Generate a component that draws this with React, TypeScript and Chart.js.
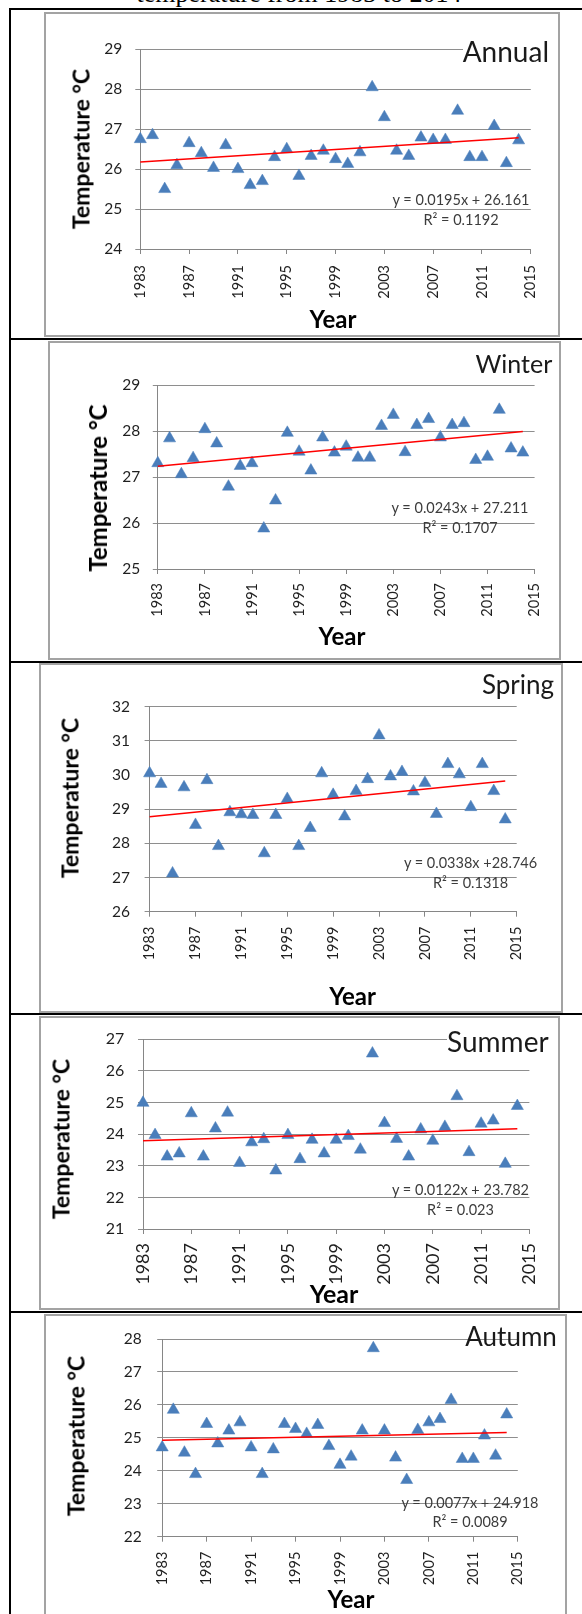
import React, { useEffect, useRef } from "react";
import { Chart, registerables } from "chart.js";

Chart.register(...registerables);

// ---------------- data ----------------
const YEARS = [
  1983, 1984, 1985, 1986, 1987, 1988, 1989, 1990, 1991, 1992, 1993, 1994, 1995, 1996, 1997, 1998,
  1999, 2000, 2001, 2002, 2003, 2004, 2005, 2006, 2007, 2008, 2009, 2010, 2011, 2012, 2013, 2014,
];

const X_TICK_LABELS = ["1983", "1987", "1991", "1995", "1999", "2003", "2007", "2011", "2015"];

const ANNUAL = [
  26.75, 26.85, 25.5, 26.1, 26.65, 26.4, 26.03, 26.6, 26.0, 25.6, 25.7, 26.3, 26.5, 25.83, 26.33, 26.46,
  26.25, 26.13, 26.42, 28.05, 27.3, 26.46, 26.33, 26.79, 26.73, 26.73, 27.46, 26.3, 26.3, 27.08, 26.15, 26.72,
];
const WINTER = [
  27.3, 27.84, 27.06, 27.41, 28.04, 27.73, 26.79, 27.24, 27.3, 25.88, 26.49, 27.96, 27.55, 27.14, 27.86, 27.53,
  27.66, 27.42, 27.42, 28.11, 28.35, 27.54, 28.13, 28.26, 27.86, 28.13, 28.17, 27.37, 27.44, 28.46, 27.62, 27.53,
];
const SPRING = [
  30.05, 29.74, 27.12, 29.64, 28.54, 29.85, 27.92, 28.91, 28.85, 28.83, 27.71, 28.83, 29.3, 27.92, 28.45, 30.05,
  29.42, 28.79, 29.53, 29.88, 31.16, 29.96, 30.09, 29.52, 29.77, 28.86, 30.32, 30.02, 29.06, 30.32, 29.53, 28.7,
];
const SUMMER = [
  24.99, 23.97, 23.29, 23.39, 24.66, 23.29, 24.18, 24.68, 23.09, 23.74, 23.84, 22.85, 23.97, 23.21, 23.82, 23.39,
  23.82, 23.94, 23.51, 26.55, 24.35, 23.85, 23.29, 24.15, 23.79, 24.23, 25.2, 23.43, 24.33, 24.43, 23.06, 24.89,
];
const AUTUMN = [
  24.71, 25.85, 24.55, 23.9, 25.42, 24.83, 25.22, 25.47, 24.71, 23.9, 24.65, 25.42, 25.27, 25.12, 25.39, 24.75,
  24.18, 24.43, 25.22, 27.72, 25.22, 24.4, 23.72, 25.24, 25.47, 25.57, 26.15, 24.36, 24.36, 25.07, 24.46, 25.71,
];

const ANNUAL_Y_TICKS = [24, 25, 26, 27, 28, 29];
const WINTER_Y_TICKS = [25, 26, 27, 28, 29];
const SPRING_Y_TICKS = [26, 27, 28, 29, 30, 31, 32];
const SUMMER_Y_TICKS = [21, 22, 23, 24, 25, 26, 27];
const AUTUMN_Y_TICKS = [22, 23, 24, 25, 26, 27, 28];

const SERIES_NAMES = ["Annual", "Winter", "Spring", "Summer", "Autumn"];
const EQUATIONS = [
  "y = 0.0195x + 26.161",
  "y = 0.0243x + 27.211",
  "y = 0.0338x +28.746",
  "y = 0.0122x + 23.782",
  "y = 0.0077x + 24.918",
];
const R_SQUARED = ["0.1192", "0.1707", "0.1318", "0.023", "0.0089"];
const TREND_SLOPE = [0.0195, 0.0243, 0.0338, 0.0122, 0.0077];
const TREND_INTERCEPT = [26.161, 27.211, 28.746, 23.782, 24.918];

const SERIES_VALUES = [ANNUAL, WINTER, SPRING, SUMMER, AUTUMN];
const Y_TICKS = [ANNUAL_Y_TICKS, WINTER_Y_TICKS, SPRING_Y_TICKS, SUMMER_Y_TICKS, AUTUMN_Y_TICKS];

const PAGE_TITLE = "temperature from 1983 to 2014";
const Y_TITLE = "Temperature \u00B0C";
const X_TITLE = "Year";

// ---------------- layout / style ----------------
const FONT = "Lato, 'Open Sans', sans-serif";
const AXIS_GRAY = "#868686";
const GRID_GRAY = "#8e8e8e";
const TICK_COLOR = "#1f1f1f";
const MARKER = "#4a7ebb";

const LAYOUTS = [
  {
    frame: { l: 44, t: 12, r: 560, b: 337 },
    plot: { l: 140.3, t: 49.3, r: 530.8, b: 249 },
    xPad: 11, yPad: 13, xFont: 14.5, yFont: 15.5,
    name: { x: 549, y: 61.7, size: 28, bg: true },
    eq: { x: 461, y1: 206, y2: 226, size: 14.5 },
    year: { x: 333, y: 328, size: 24 },
    temp: { x: 81, y: 148.5, size: 23 },
  },
  {
    frame: { l: 48, t: 341, r: 561, b: 660 },
    plot: { l: 157.8, t: 385, r: 537, b: 569 },
    xPad: 9, yPad: 12.5, xFont: 14.5, yFont: 15.5,
    name: { x: 552.3, y: 372.7, size: 25, bg: false },
    eq: { x: 460, y1: 514, y2: 534, size: 14.5 },
    year: { x: 342, y: 645, size: 24 },
    temp: { x: 98, y: 488, size: 24 },
  },
  {
    frame: { l: 39, t: 663, r: 563, b: 1013 },
    plot: { l: 149.6, t: 706.7, r: 516.7, b: 911.7 },
    xPad: 10, yPad: 14.6, xFont: 14.5, yFont: 15.5,
    name: { x: 554, y: 694, size: 26, bg: false },
    eq: { x: 470.5, y1: 869, y2: 889, size: 14.5 },
    year: { x: 352.6, y: 1005, size: 24 },
    temp: { x: 70, y: 798, size: 23 },
  },
  {
    frame: { l: 39, t: 1016, r: 560, b: 1310 },
    plot: { l: 143, t: 1032.7, r: 542.7, b: 1229 },
    xPad: 9, yPad: 13.7, xFont: 18, yFont: 16,
    name: { x: 548.6, y: 1051.7, size: 28, bg: true },
    eq: { x: 460.5, y1: 1196, y2: 1215.5, size: 14.5 },
    year: { x: 334, y: 1303, size: 25 },
    temp: { x: 61, y: 1139, size: 23 },
  },
  {
    frame: { l: 44, t: 1314, r: 567, b: 1640 },
    plot: { l: 162.2, t: 1339, r: 517.8, b: 1536.7 },
    xPad: 10, yPad: 15.4, xFont: 14.5, yFont: 15.5,
    name: { x: 556.8, y: 1345.7, size: 26, bg: false },
    eq: { x: 470, y1: 1508.5, y2: 1528, size: 14.5 },
    year: { x: 351, y: 1608, size: 24 },
    temp: { x: 76, y: 1436, size: 23 },
  },
];

const PAGE_W = 582;
const PAGE_H = 1614;
const LATO_ASC = 0.887;

function Txt(props: {
  text: string; x: number; y: number; size: number; align: "left" | "center" | "right";
  weight?: number; color?: string; family?: string; asc?: number; bg?: boolean;
}) {
  const { text, x, y, size, align, weight = 400, color = "#000", family = FONT, asc = LATO_ASC, bg = false } = props;
  const style: React.CSSProperties = {
    position: "absolute",
    top: y - asc * size,
    fontSize: size,
    lineHeight: `${size}px`,
    fontWeight: weight,
    color,
    fontFamily: family,
    whiteSpace: "nowrap",
    background: bg ? "#fff" : "transparent",
  };
  if (align === "left") style.left = x;
  else if (align === "right") style.right = PAGE_W - x;
  else {
    style.left = x;
    style.transform = "translateX(-50%)";
  }
  return <div style={style}>{text}</div>;
}

function VTxt(props: { text: string; cx: number; cy: number; size: number }) {
  const { text, cx, cy, size } = props;
  return (
    <div
      style={{
        position: "absolute",
        left: cx,
        top: cy,
        transform: "translate(-50%, -50%) rotate(-90deg)",
        fontSize: size,
        lineHeight: `${size}px`,
        fontWeight: 700,
        fontFamily: FONT,
        color: "#000",
        whiteSpace: "nowrap",
      }}
    >
      {text}
    </div>
  );
}

function Panel({ idx }: { idx: number }) {
  const ref = useRef<HTMLCanvasElement | null>(null);
  const L = LAYOUTS[idx];
  const f = L.frame;
  const p = L.plot;
  const W = f.r - f.l;
  const H = f.b - f.t;

  useEffect(() => {
    const canvas = ref.current;
    if (!canvas) return;
    const values = SERIES_VALUES[idx];
    const yTicks = Y_TICKS[idx];
    const xVals = X_TICK_LABELS.map(Number);
    const pts = YEARS.map((x, i) => ({ x, y: values[i] }));
    const trend = [0, YEARS.length - 1].map((i) => ({
      x: YEARS[i],
      y: TREND_INTERCEPT[idx] + TREND_SLOPE[idx] * (i + 1),
    }));

    const chart = new Chart(canvas, {
      type: "scatter",
      data: {
        datasets: [
          {
            type: "line",
            label: "trend",
            data: trend,
            borderColor: "#ff0000",
            borderWidth: 1.5,
            pointRadius: 0,
            fill: false,
            tension: 0,
            clip: false,
          } as any,
          {
            type: "scatter",
            label: SERIES_NAMES[idx],
            data: pts,
            pointStyle: "triangle",
            pointRadius: 7,
            pointHoverRadius: 7,
            backgroundColor: MARKER,
            borderColor: MARKER,
            borderWidth: 0.5,
            clip: false,
          } as any,
        ],
      },
      options: {
        responsive: false,
        animation: false,
        devicePixelRatio: 1,
        events: [],
        layout: { padding: { left: 0, top: p.t - f.t, right: f.r - p.r, bottom: 0 } },
        plugins: { legend: { display: false }, tooltip: { enabled: false }, title: { display: false } },
        scales: {
          x: {
            type: "linear",
            min: xVals[0],
            max: xVals[xVals.length - 1],
            afterBuildTicks: (s: any) => {
              s.ticks = xVals.map((v) => ({ value: v }));
            },
            afterFit: (s: any) => {
              s.height = f.b - p.b;
            },
            grid: { display: true, drawOnChartArea: false, drawTicks: true, tickLength: 5, color: AXIS_GRAY, lineWidth: 1 },
            border: { display: true, color: AXIS_GRAY, width: 1 },
            ticks: {
              autoSkip: false,
              minRotation: 90,
              maxRotation: 90,
              padding: L.xPad,
              color: TICK_COLOR,
              font: { family: FONT, size: L.xFont },
              callback: (v: any) => {
                const k = xVals.indexOf(Number(v));
                return k >= 0 ? X_TICK_LABELS[k] : "";
              },
            },
          },
          y: {
            type: "linear",
            min: yTicks[0],
            max: yTicks[yTicks.length - 1],
            afterBuildTicks: (s: any) => {
              s.ticks = yTicks.map((v) => ({ value: v }));
            },
            afterFit: (s: any) => {
              s.width = p.l - f.l;
            },
            grid: { display: true, drawOnChartArea: true, drawTicks: true, tickLength: 5, color: GRID_GRAY, lineWidth: 1 },
            border: { display: true, color: AXIS_GRAY, width: 1 },
            ticks: {
              autoSkip: false,
              padding: L.yPad,
              color: TICK_COLOR,
              font: { family: FONT, size: L.yFont },
              callback: (v: any) => String(v),
            },
          },
        },
      } as any,
    });
    return () => chart.destroy();
  }, [idx]);

  return (
    <>
      <div
        style={{
          position: "absolute",
          left: f.l,
          top: f.t,
          width: W,
          height: H,
          border: "2px solid #a3a3a3",
          boxSizing: "border-box",
        }}
      />
      <canvas
        ref={ref}
        width={W}
        height={H}
        style={{ position: "absolute", left: f.l, top: f.t, width: W, height: H }}
      />
      <Txt text={SERIES_NAMES[idx]} x={L.name.x} y={L.name.y} size={L.name.size} align="right" color="#1a1a1a" bg={L.name.bg} />
      <Txt text={EQUATIONS[idx]} x={L.eq.x} y={L.eq.y1} size={L.eq.size} align="center" color="#3c3c3c" />
      <Txt text={`R\u00B2 = ${R_SQUARED[idx]}`} x={L.eq.x} y={L.eq.y2} size={L.eq.size} align="center" color="#3c3c3c" />
      <Txt text={X_TITLE} x={L.year.x} y={L.year.y} size={L.year.size} align="center" weight={700} />
      <VTxt text={Y_TITLE} cx={L.temp.x} cy={L.temp.y} size={L.temp.size} />
    </>
  );
}

export default function App() {
  useEffect(() => {
    document.body.style.margin = "0";
    document.body.style.overflow = "hidden";
    document.documentElement.style.overflow = "hidden";
  }, []);

  const hLines = [8, 338, 661, 1013, 1311];

  return (
    <div
      style={{
        position: "relative",
        width: PAGE_W,
        height: PAGE_H,
        overflow: "hidden",
        background: "#fff",
      }}
    >
      <Txt
        text={PAGE_TITLE}
        x={299}
        y={2.5}
        size={26}
        align="center"
        family="'Liberation Serif', 'Times New Roman', serif"
        asc={0.8375}
      />
      {hLines.map((y, i) => (
        <div key={"h" + i} style={{ position: "absolute", left: 9, top: y, width: PAGE_W - 9, height: 2, background: "#000" }} />
      ))}
      <div style={{ position: "absolute", left: 9, top: 8, width: 2, height: PAGE_H - 8, background: "#000" }} />
      {LAYOUTS.map((_, i) => (
        <Panel key={i} idx={i} />
      ))}
    </div>
  );
}
